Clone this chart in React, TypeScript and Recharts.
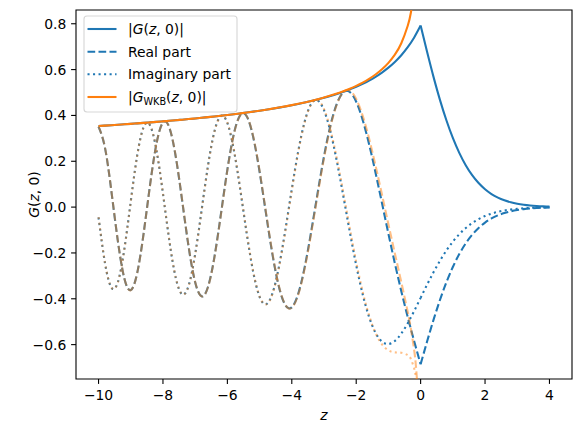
import React from "react";
import { LineChart, Line, XAxis, YAxis, ReferenceArea } from "recharts";

const BLUE = "#1f77b4";
const ORANGE = "#ff7f0e";
const FONT = "DejaVu Sans, sans-serif";
const LW = 2.08;
const DASHED = "7.7 3.3";
const DOTTED = "2.08 3.44";

// G(z, 0) for z <= 0 (step 0.2)
const zNeg = [
  -10, -9.8, -9.6, -9.4, -9.2, -9, -8.8, -8.6, -8.4, -8.2, -8, -7.8, -7.6, -7.4, -7.2, -7, -6.8,
  -6.6, -6.4, -6.2, -6, -5.8, -5.6, -5.4, -5.2, -5, -4.8, -4.6, -4.4, -4.2, -4, -3.8, -3.6, -3.4,
  -3.2, -3, -2.8, -2.6, -2.4, -2.2, -2, -1.8, -1.6, -1.4, -1.2, -1, -0.8, -0.6, -0.4, -0.2, 0,
];
const realNeg = [
  0.35101, 0.25863, 0.06793, -0.14831, -0.31076, -0.36243, -0.2875, -0.11419, 0.09766, 0.27779,
  0.36946, 0.3461, 0.21742, 0.02407, -0.17649, -0.32767, -0.38935, -0.34754, -0.21586, -0.02986,
  0.16364, 0.31889, 0.40172, 0.3963, 0.30675, 0.15434, -0.02867, -0.20652, -0.34715, -0.42773,
  -0.43753, -0.37821, -0.26202, -0.10835, 0.06009, 0.22117, 0.35618, 0.4517, 0.50085, 0.50233,
  0.45987, 0.3808, 0.27434, 0.15026, 0.01765, -0.116, -0.24519, -0.36672, -0.47963, -0.58502,
  -0.68587,
];
const imagNeg = [
  -0.04489, -0.24414, -0.35097, -0.32735, -0.18433, 0.02471, 0.22539, 0.34924, 0.35645, 0.24714,
  0.05876, -0.1482, -0.31034, -0.3807, -0.34112, -0.20551, -0.01349, 0.18241, 0.33143, 0.39754,
  0.36712, 0.25022, 0.07619, -0.11483, -0.28174, -0.39125, -0.42389, -0.37644, -0.26068, -0.09952,
  0.07837, 0.24411, 0.37344, 0.44976, 0.46571, 0.42268, 0.32937, 0.1991, 0.04833, -0.10724,
  -0.25365, -0.38007, -0.47945, -0.54842, -0.58689, -0.59734, -0.58397, -0.55194, -0.50663,
  -0.45315, -0.39598,
];
const absNeg = [
  0.35383, 0.35563, 0.35746, 0.35935, 0.36129, 0.36327, 0.36531, 0.36742, 0.36958, 0.37181,
  0.3741, 0.37648, 0.37892, 0.38146, 0.38407, 0.38677, 0.38958, 0.39249, 0.39551, 0.39865,
  0.40193, 0.40533, 0.40888, 0.41259, 0.41648, 0.42056, 0.42484, 0.42935, 0.4341, 0.43912,
  0.44445, 0.4501, 0.45614, 0.46257, 0.46949, 0.47694, 0.48502, 0.49364, 0.50317, 0.51365,
  0.52518, 0.53802, 0.55238, 0.56863, 0.58716, 0.60851, 0.63336, 0.66266, 0.69765, 0.74, 0.79197,
];

// G(z, 0) for z >= 0
const zPos = [0, 0.2, 0.4, 0.6, 0.8, 1, 1.2, 1.4, 1.6, 1.8, 2, 2.2, 2.4, 2.6, 2.8, 3, 3.2, 3.4, 3.6, 3.8, 4];
const realPos = [
  -0.68587, -0.58671, -0.49213, -0.4053, -0.32812, -0.26136, -0.20502, -0.15849, -0.12081,
  -0.09087, -0.06747, -0.0494, -0.03582, -0.02565, -0.01818, -0.01273, -0.00883, -0.00605,
  -0.00411, -0.00276, -0.00184,
];
const imagPos = [
  -0.39598, -0.33874, -0.28413, -0.234, -0.18944, -0.1509, -0.11837, -0.0915, -0.06975, -0.05246,
  -0.03895, -0.02852, -0.02068, -0.01481, -0.0105, -0.00735, -0.0051, -0.00349, -0.00238,
  -0.00159, -0.00106,
];
const absPos = [
  0.79197, 0.67747, 0.56826, 0.46801, 0.37888, 0.3018, 0.23674, 0.183, 0.1395, 0.10493, 0.07791,
  0.05704, 0.04136, 0.02962, 0.02099, 0.0147, 0.01019, 0.00698, 0.00475, 0.00319, 0.00212,
];

// WKB approximation (z < 0 only)
const zWkb = [
  -10, -9.8, -9.6, -9.4, -9.2, -9, -8.8, -8.6, -8.4, -8.2, -8, -7.8, -7.6, -7.4, -7.2, -7, -6.8,
  -6.6, -6.4, -6.2, -6, -5.8, -5.6, -5.4, -5.2, -5, -4.8, -4.6, -4.4, -4.2, -4, -3.8, -3.6, -3.4,
  -3.2, -3, -2.8, -2.6, -2.4, -2.2, -2, -1.8, -1.6, -1.4, -1.2, -1, -0.8, -0.6, -0.4, -0.3, -0.2,
  -0.15, -0.1,
];
const realWkb = [
  0.35115, 0.25946, 0.06916, -0.14713, -0.31007, -0.36256, -0.28842, -0.11563, 0.09613, 0.27673,
  0.36924, 0.34685, 0.219, 0.02604, -0.17469, -0.32658, -0.38936, -0.34874, -0.21804, -0.03254,
  0.16109, 0.31713, 0.40128, 0.39743, 0.30937, 0.15803, -0.02453, -0.20272, -0.34451, -0.42691,
  -0.43896, -0.382, -0.26792, -0.11579, 0.05201, 0.21351, 0.35013, 0.44862, 0.50178, 0.50827,
  0.47166, 0.39891, 0.29902, 0.18139, 0.05461, -0.07454, -0.20194, -0.32735, -0.45766, -0.53191,
  -0.62455, -0.68677, -0.77441,
];
const imagWkb = [
  -0.04373, -0.24326, -0.35073, -0.32788, -0.18549, 0.02331, 0.22426, 0.3488, 0.35691, 0.2484,
  0.06046, -0.14656, -0.30931, -0.38064, -0.34213, -0.2074, -0.01578, 0.18032, 0.33013, 0.39745,
  0.36839, 0.25269, 0.07937, -0.11159, -0.27918, -0.39002, -0.42442, -0.37885, -0.26475, -0.1047,
  0.07285, 0.23918, 0.37004, 0.44871, 0.46761, 0.42784, 0.33772, 0.2105, 0.06179, -0.0929,
  -0.23993, -0.36881, -0.47291, -0.54932, -0.59874, -0.62484, -0.63398, -0.63566, -0.64549,
  -0.66336, -0.70385, -0.74214, -0.80777,
];
const absWkb = [
  0.35386, 0.35566, 0.35749, 0.35938, 0.36132, 0.36331, 0.36535, 0.36746, 0.36963, 0.37186,
  0.37416, 0.37654, 0.37899, 0.38153, 0.38415, 0.38686, 0.38968, 0.3926, 0.39563, 0.39878,
  0.40207, 0.40549, 0.40906, 0.4128, 0.41671, 0.42081, 0.42513, 0.42968, 0.43448, 0.43956,
  0.44496, 0.4507, 0.45684, 0.46341, 0.47049, 0.47814, 0.48646, 0.49555, 0.50557, 0.51669,
  0.52915, 0.54327, 0.55951, 0.57849, 0.60122, 0.62927, 0.66537, 0.71499, 0.79126, 0.85027,
  0.94098, 1.01115, 1.11902,
];

const xTicks = [-10, -8, -6, -4, -2, 0, 2, 4];
const yTicks = [-0.6, -0.4, -0.2, 0, 0.2, 0.4, 0.6, 0.8];
const X_DOMAIN = [-10.7, 4.7];
const Y_DOMAIN = [-0.75, 0.86];

const rows = (zs: number[], vs: number[]) => zs.map((z, i) => ({ z, v: vs[i] }));
const withMinus = (s: string) => s.replace("-", "\u2212");
const tickStyle = { fill: "#000", fontSize: 13.9, fontFamily: FONT };

const XLabel = () => (
  <text x={324} y={419.5} textAnchor="middle" fontFamily={FONT} fontSize={13.9} fontStyle="italic" fill="#000">
    z
  </text>
);

const YLabel = () => (
  <text
    x={39}
    y={194.5}
    transform="rotate(-90, 39, 194.5)"
    textAnchor="middle"
    fontFamily={FONT}
    fontSize={13.9}
    fill="#000"
  >
    <tspan fontStyle="italic">G</tspan>(<tspan fontStyle="italic">z</tspan>, 0)
  </text>
);

// legend entries, drawn like matplotlib's upper-left box
const legendItems = [
  { color: BLUE, dash: undefined, text: <><tspan>|</tspan><tspan fontStyle="italic">G</tspan><tspan>(</tspan><tspan fontStyle="italic">z</tspan><tspan>, 0)|</tspan></> },
  { color: BLUE, dash: DASHED, text: <tspan>Real part</tspan> },
  { color: BLUE, dash: DOTTED, text: <tspan>Imaginary part</tspan> },
  {
    color: ORANGE,
    dash: undefined,
    text: (
      <>
        <tspan>|</tspan>
        <tspan fontStyle="italic">G</tspan>
        <tspan fontSize={9.7} dy={3}>WKB</tspan>
        <tspan dy={-3}>(</tspan>
        <tspan fontStyle="italic">z</tspan>
        <tspan>, 0)|</tspan>
      </>
    ),
  },
];

function LegendBox() {
  const rowY = [13, 35.7, 58.3, 81];
  return (
    <svg
      width={156}
      height={100}
      style={{ position: "absolute", left: 83, top: 15, pointerEvents: "none" }}
    >
      <rect x={1} y={1} width={153} height={96} rx={3} fill="rgba(255,255,255,0.8)" stroke="rgba(204,204,204,0.8)" strokeWidth={1.1} />
      {legendItems.map((it, i) => (
        <g key={i}>
          <line x1={4.5} x2={33.5} y1={rowY[i] + 1} y2={rowY[i] + 1} stroke={it.color} strokeWidth={LW} strokeDasharray={it.dash} />
          <text x={45} y={rowY[i] + 6} fontFamily={FONT} fontSize={13.9} fill="#000">
            {it.text}
          </text>
        </g>
      ))}
    </svg>
  );
}

export default function App() {
  return (
    <div style={{ position: "absolute", left: 0, top: 0, width: 581, height: 432, background: "#fff" }}>
      <LineChart width={581} height={432} margin={{ top: 10, right: 9, bottom: 0, left: 0 }}>
        <XAxis
          type="number"
          dataKey="z"
          domain={X_DOMAIN}
          allowDataOverflow
          ticks={xTicks}
          interval={0}
          tickFormatter={(v: number) => withMinus(String(v))}
          axisLine={false}
          tickLine={{ stroke: "#000", strokeWidth: 1.1 }}
          tickSize={4.9}
          tickMargin={6}
          height={53}
          tick={tickStyle}
          label={XLabel}
        />
        <YAxis
          type="number"
          domain={Y_DOMAIN}
          allowDataOverflow
          ticks={yTicks}
          interval={0}
          tickFormatter={(v: number) => withMinus(v.toFixed(1))}
          axisLine={false}
          tickLine={{ stroke: "#000", strokeWidth: 1.1 }}
          tickSize={4.9}
          tickMargin={4.8}
          width={76}
          tick={tickStyle}
          label={YLabel}
        />
        {/* exact function, z <= 0 and z >= 0 pieces (cusp at z = 0) */}
        <Line data={rows(zNeg, absNeg)} dataKey="v" type="natural" stroke={BLUE} strokeWidth={LW} dot={false} isAnimationActive={false} />
        <Line data={rows(zPos, absPos)} dataKey="v" type="monotone" stroke={BLUE} strokeWidth={LW} dot={false} isAnimationActive={false} />
        <Line data={rows(zNeg, realNeg)} dataKey="v" type="natural" stroke={BLUE} strokeWidth={LW} strokeDasharray={DASHED} dot={false} isAnimationActive={false} />
        <Line data={rows(zPos, realPos)} dataKey="v" type="monotone" stroke={BLUE} strokeWidth={LW} strokeDasharray={DASHED} dot={false} isAnimationActive={false} />
        <Line data={rows(zNeg, imagNeg)} dataKey="v" type="natural" stroke={BLUE} strokeWidth={LW} strokeDasharray={DOTTED} dot={false} isAnimationActive={false} />
        <Line data={rows(zPos, imagPos)} dataKey="v" type="monotone" stroke={BLUE} strokeWidth={LW} strokeDasharray={DOTTED} dot={false} isAnimationActive={false} />
        {/* WKB approximation */}
        <Line data={rows(zWkb, absWkb)} dataKey="v" type="natural" stroke={ORANGE} strokeWidth={LW} dot={false} isAnimationActive={false} />
        <Line data={rows(zWkb, realWkb)} dataKey="v" type="natural" stroke={ORANGE} strokeOpacity={0.5} strokeWidth={LW} strokeDasharray={DASHED} dot={false} isAnimationActive={false} />
        <Line data={rows(zWkb, imagWkb)} dataKey="v" type="natural" stroke={ORANGE} strokeOpacity={0.5} strokeWidth={LW} strokeDasharray={DOTTED} dot={false} isAnimationActive={false} />
        <ReferenceArea x1={X_DOMAIN[0]} x2={X_DOMAIN[1]} y1={Y_DOMAIN[0]} y2={Y_DOMAIN[1]} fill="none" stroke="#000" strokeWidth={1.1} ifOverflow="visible" />
      </LineChart>
      <LegendBox />
    </div>
  );
}
